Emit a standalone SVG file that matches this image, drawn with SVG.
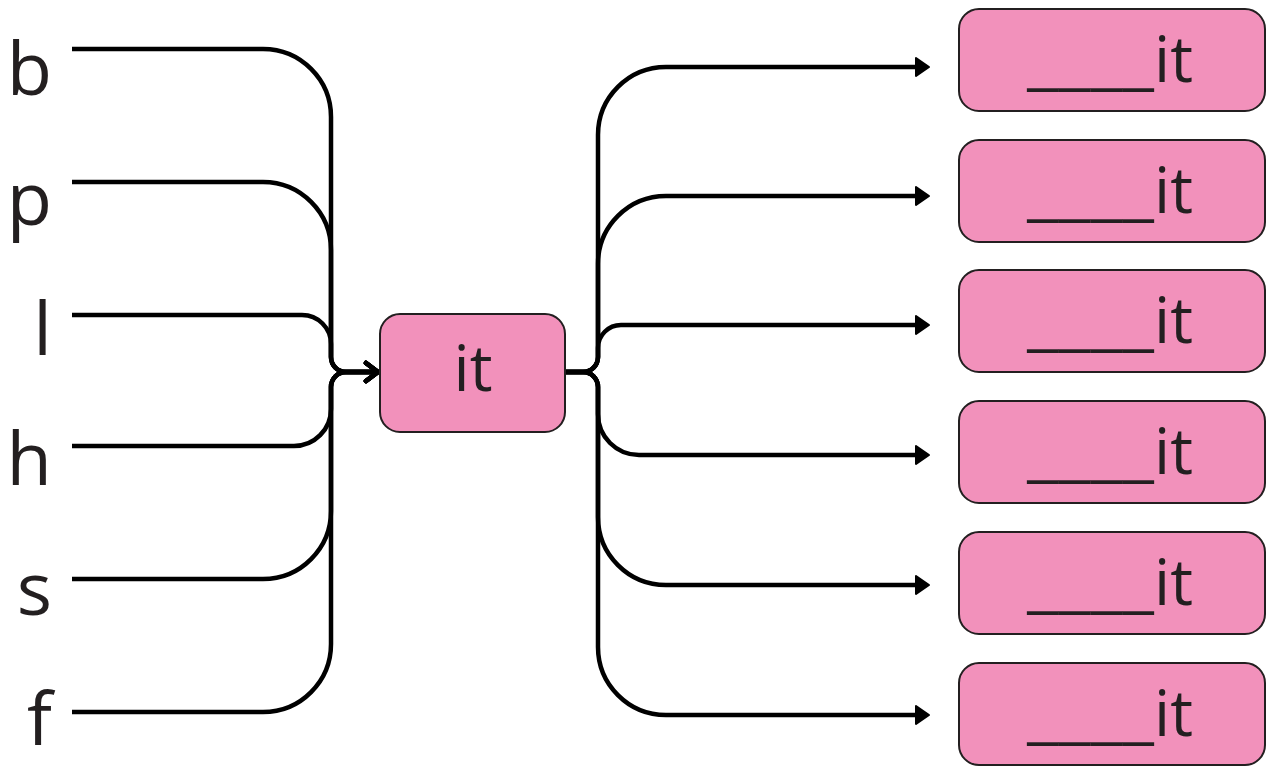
<svg xmlns="http://www.w3.org/2000/svg" width="1271" height="767" viewBox="0 0 1271 767">
  <defs>
    <marker id="chev" markerUnits="userSpaceOnUse" markerWidth="24" markerHeight="26" refX="16" refY="12" orient="auto">
      <path d="M4,3 L16,12 L4,21" fill="none" stroke="#000" stroke-width="4.5" stroke-linecap="round" stroke-linejoin="round"/>
    </marker>
    <marker id="tri" markerUnits="userSpaceOnUse" markerWidth="20" markerHeight="24" refX="2" refY="12" orient="auto">
      <path d="M2,3 L15,12 L2,21 Z" fill="#000" stroke="#000" stroke-width="2" stroke-linejoin="round"/>
    </marker>
  </defs>
  <style>
    .box { fill: #F291BB; stroke: #231F20; stroke-width: 2; }
    .lbl { font-family: "Open Sans", "DejaVu Sans", sans-serif; fill: #231F20; }
    .c { fill: none; stroke: #000; stroke-width: 4.5; stroke-linejoin: round; }
  </style>
  <rect width="1271" height="767" fill="#fff"/>

  <g id="connectors">
    <path class="c" d="M72,49 H263 A68,68 0 0 1 331,117 V357 A15,15 0 0 0 346,372 H378" marker-end="url(#chev)"/>
    <path class="c" d="M72,182 H263 A68,68 0 0 1 331,250 V357 A15,15 0 0 0 346,372 H378" marker-end="url(#chev)"/>
    <path class="c" d="M72,315 H302 A29,29 0 0 1 331,344 V357 A15,15 0 0 0 346,372 H378" marker-end="url(#chev)"/>
    <path class="c" d="M72,446 H294 A37,37 0 0 0 331,409 V387 A15,15 0 0 1 346,372 H378" marker-end="url(#chev)"/>
    <path class="c" d="M72,579 H263 A68,68 0 0 0 331,511 V387 A15,15 0 0 1 346,372 H378" marker-end="url(#chev)"/>
    <path class="c" d="M72,712 H263 A68,68 0 0 0 331,644 V387 A15,15 0 0 1 346,372 H378" marker-end="url(#chev)"/>

    <path class="c" d="M566,372 H583 A15,15 0 0 0 598,357 V135 A68,68 0 0 1 666,67 H916" marker-end="url(#tri)"/>
    <path class="c" d="M566,372 H583 A15,15 0 0 0 598,357 V264 A68,68 0 0 1 666,196 H916" marker-end="url(#tri)"/>
    <path class="c" d="M566,372 H583 A15,15 0 0 0 598,357 V348 A23,23 0 0 1 621,325 H916" marker-end="url(#tri)"/>
    <path class="c" d="M566,372 H583 A15,15 0 0 1 598,387 V414 A41,41 0 0 0 639,455 H916" marker-end="url(#tri)"/>
    <path class="c" d="M566,372 H583 A15,15 0 0 1 598,387 V517 A68,68 0 0 0 666,585 H916" marker-end="url(#tri)"/>
    <path class="c" d="M566,372 H583 A15,15 0 0 1 598,387 V647 A68,68 0 0 0 666,715 H916" marker-end="url(#tri)"/>
  </g>

  <g id="label-b"><text class="lbl" x="52" y="95" font-size="74" text-anchor="end">b</text></g>
  <g id="label-p"><text class="lbl" x="52" y="225" font-size="74" text-anchor="end">p</text></g>
  <g id="label-l"><text class="lbl" x="52" y="355" font-size="74" text-anchor="end">l</text></g>
  <g id="label-h"><text class="lbl" x="52" y="485" font-size="74" text-anchor="end">h</text></g>
  <g id="label-s"><text class="lbl" x="52" y="615" font-size="74" text-anchor="end">s</text></g>
  <g id="label-f"><text class="lbl" x="52" y="745" font-size="74" text-anchor="end">f</text></g>

  <g id="node-it">
    <rect class="box" x="380" y="314" width="185" height="118" rx="20"/>
    <text class="lbl" x="473" y="391" font-size="64" text-anchor="middle">it</text>
  </g>

  <g id="node-1">
    <rect class="box" x="959" y="9" width="306" height="102" rx="20"/>
    <text class="lbl" x="1027" y="82" font-size="64"><tspan textLength="127" lengthAdjust="spacingAndGlyphs">____</tspan><tspan>it</tspan></text>
  </g>
  <g id="node-2">
    <rect class="box" x="959" y="140" width="306" height="102" rx="20"/>
    <text class="lbl" x="1027" y="213" font-size="64"><tspan textLength="127" lengthAdjust="spacingAndGlyphs">____</tspan><tspan>it</tspan></text>
  </g>
  <g id="node-3">
    <rect class="box" x="959" y="270" width="306" height="102" rx="20"/>
    <text class="lbl" x="1027" y="343" font-size="64"><tspan textLength="127" lengthAdjust="spacingAndGlyphs">____</tspan><tspan>it</tspan></text>
  </g>
  <g id="node-4">
    <rect class="box" x="959" y="401" width="306" height="102" rx="20"/>
    <text class="lbl" x="1027" y="474" font-size="64"><tspan textLength="127" lengthAdjust="spacingAndGlyphs">____</tspan><tspan>it</tspan></text>
  </g>
  <g id="node-5">
    <rect class="box" x="959" y="532" width="306" height="102" rx="20"/>
    <text class="lbl" x="1027" y="605" font-size="64"><tspan textLength="127" lengthAdjust="spacingAndGlyphs">____</tspan><tspan>it</tspan></text>
  </g>
  <g id="node-6">
    <rect class="box" x="959" y="663" width="306" height="102" rx="20"/>
    <text class="lbl" x="1027" y="736" font-size="64"><tspan textLength="127" lengthAdjust="spacingAndGlyphs">____</tspan><tspan>it</tspan></text>
  </g>
</svg>
